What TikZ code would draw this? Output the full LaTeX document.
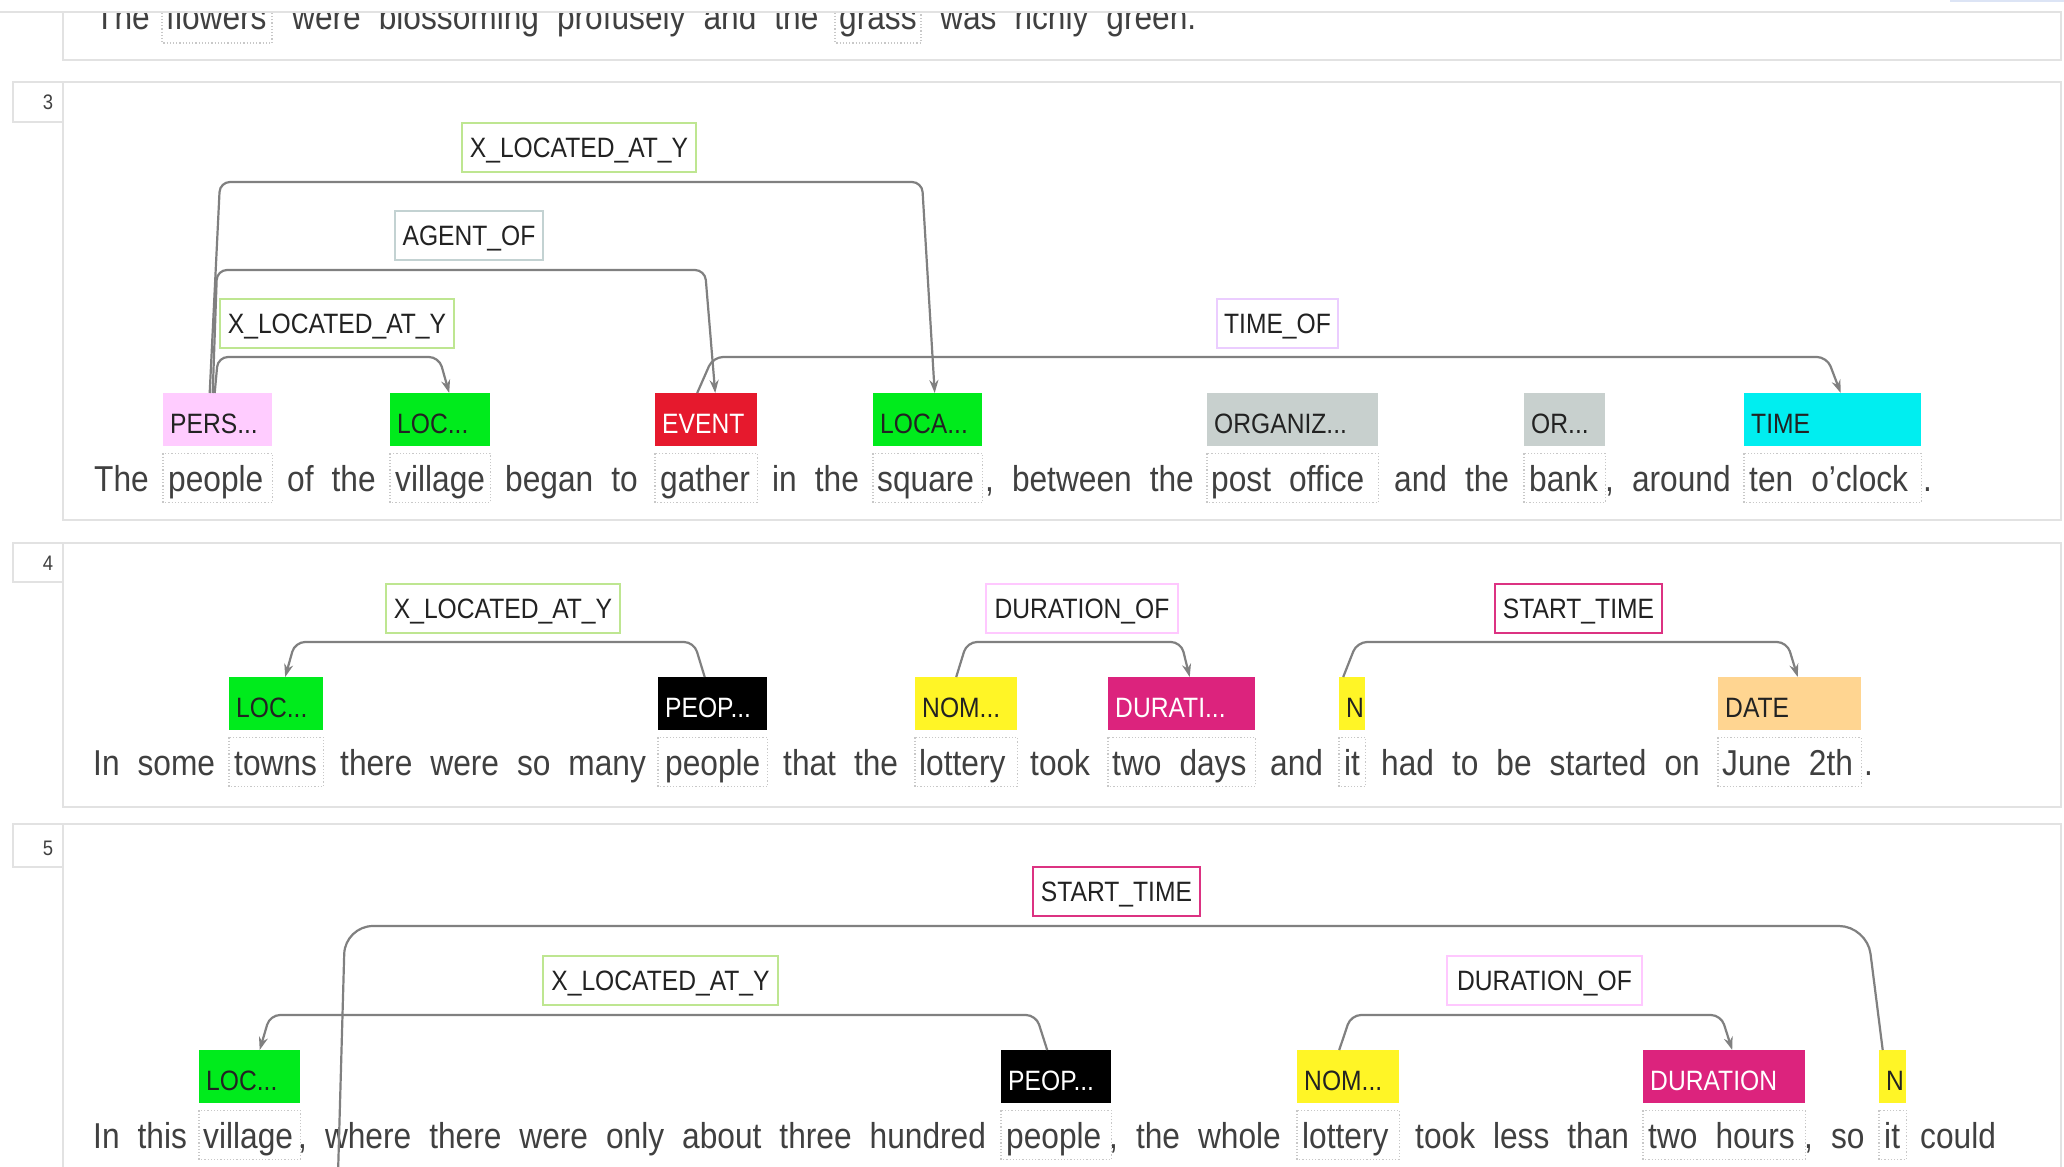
\documentclass[tikz,border=0pt]{standalone}
\usepackage{fontspec}
\setmainfont{Liberation Sans}[FakeStretch=0.88]
\usetikzlibrary{arrows.meta,calc}

\definecolor{wordc}{RGB}{64,64,64}
\definecolor{lblc}{RGB}{34,34,34}
\definecolor{arcc}{RGB}{128,128,128}
\definecolor{secc}{RGB}{226,226,226}
\definecolor{dotc}{RGB}{200,200,200}
\definecolor{topblue}{RGB}{220,228,245}
\definecolor{persc}{RGB}{255,204,255}
\definecolor{locc}{RGB}{0,235,28}
\definecolor{eventc}{RGB}{230,25,45}
\definecolor{orgc}{RGB}{200,208,206}
\definecolor{timec}{RGB}{0,238,240}
\definecolor{nomc}{RGB}{255,245,38}
\definecolor{durc}{RGB}{220,35,125}
\definecolor{datec}{RGB}{255,213,145}
\definecolor{xlocb}{RGB}{190,230,145}
\definecolor{agentb}{RGB}{195,210,210}
\definecolor{timeofb}{RGB}{235,205,255}
\definecolor{durofb}{RGB}{255,200,255}
\definecolor{startb}{RGB}{220,50,130}

\newcommand\fwd{\fontsize{36}{40}\selectfont\spaceskip=18pt\relax\xspaceskip=18pt\relax}
\newcommand\flb{\fontsize{28}{30}\selectfont}
\newcommand\fnum{\fontsize{21}{24}\selectfont}

\newcounter{wc}
\newcommand\wrd[3]{\stepcounter{wc}\node[word] (w\thewc) at (#1,#2) {#3};}
\newcommand\spn[7]{%
  \node[spanbox, fill=#5, minimum width={#3-#2}] (#1) at (#2,#4) {};
  \node[spantext, text=#6] (#1t) at ([xshift=7pt,yshift=13pt]#1.south west) {#7};
  \draw[wbox] ([yshift=-7pt]#1.south west) rectangle ([yshift=-56pt]#1.south east);}
\newcommand\lab[6]{\node[lbl, draw=#5, minimum width=#4] (#1) at (#2,#3) {#6};}

\tikzset{
  word/.style={anchor=base west, inner sep=0pt, font=\fwd, text=wordc},
  spanbox/.style={rectangle, inner sep=0pt, minimum height=53pt, anchor=north west},
  spantext/.style={anchor=base west, inner sep=0pt, font=\flb},
  lbl/.style={rectangle, line width=2pt, fill=white, inner sep=0pt, minimum height=49pt,
    anchor=north west, font=\flb, text=lblc, text height=20pt, text depth=0pt},
  wbox/.style={draw=dotc, line width=1.2pt, dotted},
  secbox/.style={draw=secc, line width=2pt},
  numtxt/.style={inner sep=0pt, font=\fnum, text=wordc},
  arcline/.style={draw=arcc, line width=2.2pt, rounded corners=10pt},
  arr/.style={arcline, -{Stealth[length=13pt,width=9pt]}}
}

\begin{document}
\begin{tikzpicture}[x=1pt,y=-1pt]
\useasboundingbox (0,0) rectangle (2064,1167);
\fill[white] (0,0) rectangle (2064,1167);

% ---------------- section 2 (partly visible) ----------------
\draw[secbox] (63,-10) -- (63,60) -- (2061,60) -- (2061,-10);
\wrd{95}{29}{The}
\wrd{166}{29}{flowers}
\wrd{292}{29}{were blossoming profusely and the}
\wrd{839}{29}{grass}
\wrd{940}{29}{was richly green.}
\draw[wbox] (162,-10) rectangle (272,43);
\draw[wbox] (835,-10) rectangle (921,43);
\fill[white] (0,-5) rectangle (2064,12);
\draw[secbox] (0,12) -- (2062,12);
\draw[topblue, line width=2pt] (1950,1) -- (2064,1);

% ---------------- section 3 ----------------
\draw[secbox] (63,82) rectangle (2061,520);
\draw[secbox, fill=white] (13,82) rectangle (63,122);
\node[numtxt] (n3) at (48,102) {3};

\lab{l3a}{461}{122}{234}{xlocb}{X\_LOCATED\_AT\_Y}
\lab{l3b}{394}{210}{148}{agentb}{AGENT\_OF}
\lab{l3c}{219}{298}{234}{xlocb}{X\_LOCATED\_AT\_Y}
\lab{l3d}{1216}{298}{121}{timeofb}{TIME\_OF}

\spn{s3pers}{163}{272}{393}{persc}{lblc}{PERS...}
\spn{s3loc}{390}{490}{393}{locc}{lblc}{LOC...}
\spn{s3event}{655}{757}{393}{eventc}{white}{EVENT}
\spn{s3loca}{873}{982}{393}{locc}{lblc}{LOCA...}
\spn{s3orga}{1207}{1378}{393}{orgc}{lblc}{ORGANIZ...}
\spn{s3orgb}{1524}{1605}{393}{orgc}{lblc}{OR...}
\spn{s3time}{1744}{1921}{393}{timec}{lblc}{TIME}

\wrd{94}{491}{The}
\wrd{168}{491}{people}
\wrd{287}{491}{of the}
\wrd{395}{491}{village}
\wrd{505}{491}{began to}
\wrd{660}{491}{gather}
\wrd{772}{491}{in the}
\wrd{877}{491}{square}
\wrd{985}{491}{, between the}
\wrd{1211}{491}{post office}
\wrd{1394}{491}{and the}
\wrd{1529}{491}{bank}
\wrd{1605}{491}{, around}
\wrd{1749}{491}{ten o'clock}
\wrd{1923}{491}{.}

\draw[arr] ([xshift=-8pt]s3pers.north) -- (220,182) -- (922,182) -- ([xshift=7pt]s3loca.north);
\draw[arr] ([xshift=-5pt]s3pers.north) -- (217,270) -- (705,270) -- ([xshift=9pt]s3event.north);
\draw[arr] ([xshift=-3pt]s3pers.north) -- (218,357) -- (439,357) -- ([xshift=9pt]s3loc.north);
\draw[arr] ([xshift=-9pt]s3event.north) -- (713,357) -- (1827,357) -- ([xshift=8pt]s3time.north);

% ---------------- section 4 ----------------
\draw[secbox] (63,543) rectangle (2061,807);
\draw[secbox, fill=white] (13,543) rectangle (63,582);
\node[numtxt] (n4) at (48,563) {4};

\lab{l4a}{385}{583}{234}{xlocb}{X\_LOCATED\_AT\_Y}
\lab{l4b}{985}{583}{192}{durofb}{DURATION\_OF}
\lab{l4c}{1494}{583}{167}{startb}{START\_TIME}

\spn{s4loc}{229}{323}{677}{locc}{lblc}{LOC...}
\spn{s4peop}{658}{767}{677}{black}{white}{PEOP...}
\spn{s4nom}{915}{1017}{677}{nomc}{lblc}{NOM...}
\spn{s4dur}{1108}{1255}{677}{durc}{white}{DURATI...}
\spn{s4n}{1339}{1365}{677}{nomc}{lblc}{N}
\spn{s4date}{1718}{1861}{677}{datec}{lblc}{DATE}

\wrd{93}{775}{In some}
\wrd{234}{775}{towns}
\wrd{340}{775}{there were so many}
\wrd{665}{775}{people}
\wrd{783}{775}{that the}
\wrd{919}{775}{lottery}
\wrd{1030}{775}{took}
\wrd{1112}{775}{two days}
\wrd{1270}{775}{and}
\wrd{1344}{775}{it}
\wrd{1381}{775}{had to be started on}
\wrd{1722}{775}{June 2th}
\wrd{1864}{775}{.}

\draw[arr] ([xshift=-8pt]s4peop.north) -- (694,642) -- (295,642) -- ([xshift=9pt]s4loc.north);
\draw[arr] ([xshift=-10pt]s4nom.north) -- (967,642) -- (1181,642) -- ([xshift=8pt]s4dur.north);
\draw[arr] ([xshift=-9pt]s4n.north) -- (1357,642) -- (1787,642) -- ([xshift=8pt]s4date.north);

% ---------------- section 5 ----------------
\draw[secbox] (63,1180) -- (63,824) -- (2061,824) -- (2061,1180);
\draw[secbox, fill=white] (13,824) rectangle (63,867);
\node[numtxt] (n5) at (48,848) {5};

\lab{l5a}{1032}{866}{167}{startb}{START\_TIME}
\lab{l5b}{542}{955}{235}{xlocb}{X\_LOCATED\_AT\_Y}
\lab{l5c}{1446}{955}{195}{durofb}{DURATION\_OF}

\spn{s5loc}{199}{300}{1050}{locc}{lblc}{LOC...}
\spn{s5peop}{1001}{1111}{1050}{black}{white}{PEOP...}
\spn{s5nom}{1297}{1399}{1050}{nomc}{lblc}{NOM...}
\spn{s5dur}{1643}{1805}{1050}{durc}{white}{DURATION}
\spn{s5n}{1879}{1906}{1050}{nomc}{lblc}{N}

\wrd{93}{1148}{In this}
\wrd{203}{1148}{village}
\wrd{298}{1148}{, where there were only about three hundred}
\wrd{1006}{1148}{people}
\wrd{1109}{1148}{, the whole}
\wrd{1302}{1148}{lottery}
\wrd{1415}{1148}{took less than}
\wrd{1648}{1148}{two hours}
\wrd{1804}{1148}{, so}
\wrd{1884}{1148}{it}
\wrd{1920}{1148}{could}

\coordinate (s5off) at (338,1175);
\draw[arcline, rounded corners=28pt] ([xshift=-10pt]s5n.north) -- (1867,926) -- (345,926) -- (s5off);
\draw[arr] ([xshift=-9pt]s5peop.north) -- (1036,1015) -- (270,1015) -- ([xshift=10pt]s5loc.north);
\draw[arr] ([xshift=-9pt]s5nom.north) -- (1351,1015) -- (1721,1015) -- ([xshift=8pt]s5dur.north);
\end{tikzpicture}
\end{document}
